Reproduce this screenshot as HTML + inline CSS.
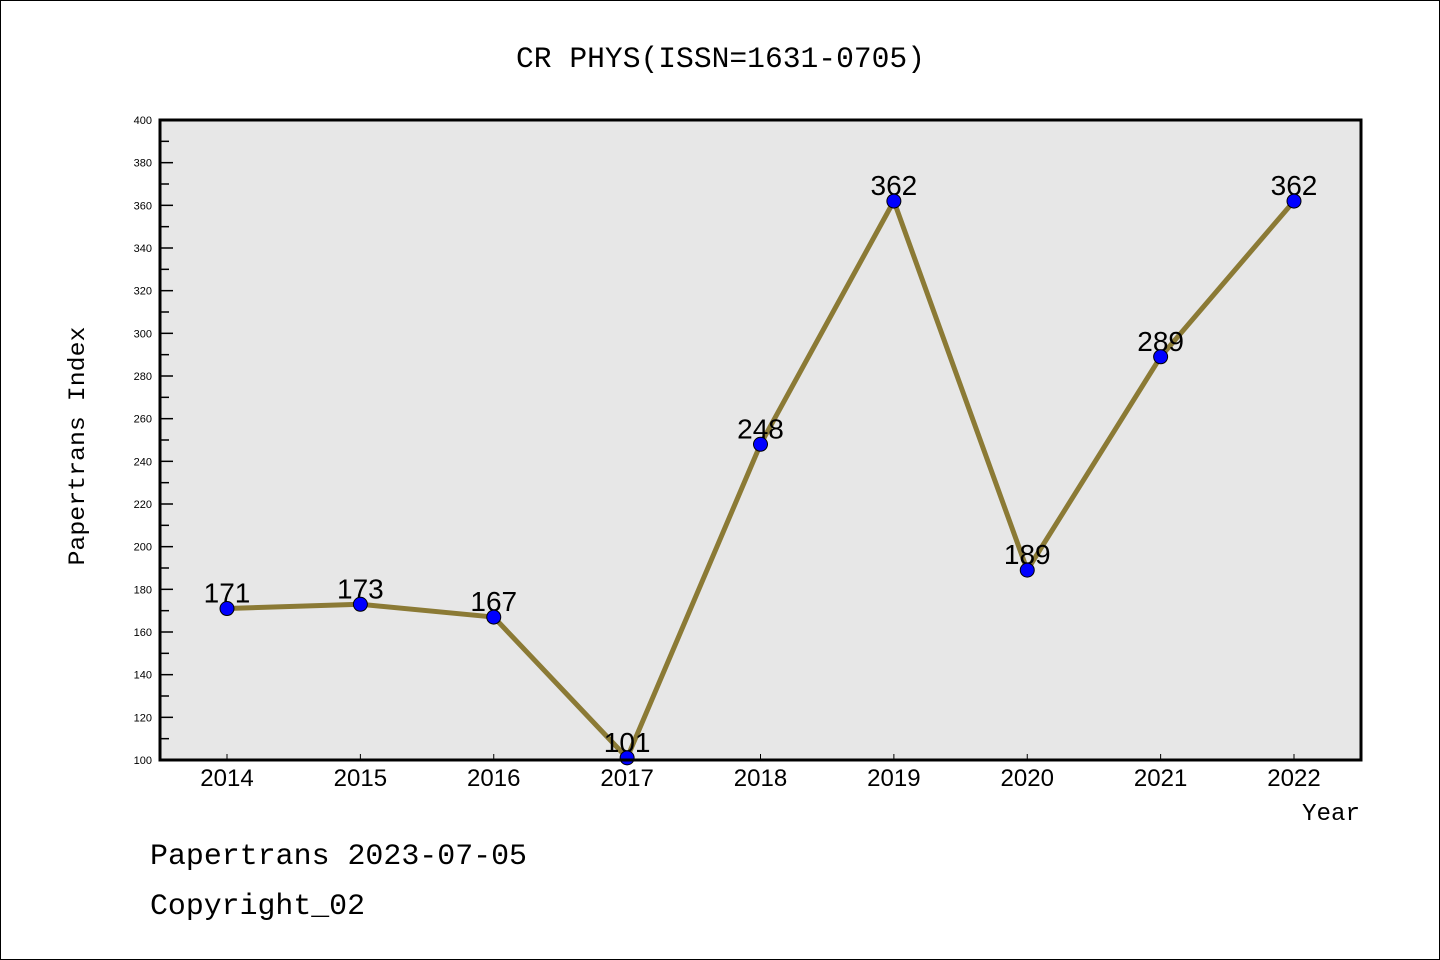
<!DOCTYPE html>
<html><head><meta charset="utf-8"><style>
html,body{margin:0;padding:0;background:#fff}
svg{display:block}
.m{font-family:"Liberation Mono","DejaVu Sans Mono",monospace}
.s{font-family:"Liberation Sans","DejaVu Sans",sans-serif}
</style></head><body>
<svg id="chart" width="1440" height="960" xmlns="http://www.w3.org/2000/svg">
<rect x="0.5" y="0.5" width="1439" height="959" fill="#fff" stroke="#000"/>
<text class="m" x="516" y="67" font-size="30" textLength="409" lengthAdjust="spacingAndGlyphs">CR PHYS(ISSN=1631-0705)</text>
<rect x="160" y="120" width="1201" height="640" fill="#e7e7e7"/>
<g id="ticks"></g>
<g id="series"></g>
<rect x="160" y="120" width="1201" height="640" fill="none" stroke="#000" stroke-width="3"/>
<text class="m" x="84" y="446" font-size="23" text-anchor="middle" textLength="239" lengthAdjust="spacingAndGlyphs" transform="rotate(-90 84 446)">Papertrans Index</text>
<text class="m" x="1302" y="820" font-size="24" textLength="58" lengthAdjust="spacingAndGlyphs">Year</text>
<text class="m" x="150" y="864" font-size="30" textLength="377" lengthAdjust="spacingAndGlyphs">Papertrans 2023-07-05</text>
<text class="m" x="150" y="914" font-size="30" textLength="215" lengthAdjust="spacingAndGlyphs">Copyright_02</text>
</svg>
<script>
const categories=["2014","2015","2016","2017","2018","2019","2020","2021","2022"];
const values=[171,173,167,101,248,362,189,289,362];
const yTicks=[100,120,140,160,180,200,220,240,260,280,300,320,340,360,380,400];
const NS="http://www.w3.org/2000/svg";
const X0=227,XSTEP=(1294-227)/8,Y0=760,Y1=120,YMIN=100,YMAX=400;
function xs(i){return X0+i*XSTEP;}
function ys(v){return Y0-(v-YMIN)/(YMAX-YMIN)*(Y0-Y1);}
function mk(tag,attrs,parent){const e=document.createElementNS(NS,tag);for(const k in attrs)e.setAttribute(k,attrs[k]);parent.appendChild(e);return e;}
const tg=document.getElementById('ticks'),sg=document.getElementById('series');
yTicks.forEach((v,i)=>{
  const y=ys(v);
  const t=mk('line',{x1:160,x2:173,y1:y,y2:y,stroke:'#000','stroke-width':1.5},tg);
  
  
  const l=mk('text',{class:'s',x:152,y:y+4,'font-size':11,'text-anchor':'end'},tg);
  l.textContent=v;
  
  
  if(i<yTicks.length-1){
    const ym=ys(v+(yTicks[1]-yTicks[0])/2);
    const m=mk('line',{x1:160,x2:169,y1:ym,y2:ym,stroke:'#000','stroke-width':1.5},tg);
    
    
  }
});
categories.forEach((c,i)=>{
  const x=xs(i);
  const t=mk('line',{x1:x,x2:x,y1:760,y2:754,stroke:'#000','stroke-width':1},tg);
  
  
  const l=mk('text',{class:'s',x:x,y:786,'font-size':24,'text-anchor':'middle'},tg);
  l.textContent=c;
  
  
});
const pts=values.map((v,i)=>xs(i)+','+ys(v)).join(' ');
const line=mk('polyline',{points:pts,fill:'none',stroke:'#8b7a35','stroke-width':5,'stroke-linejoin':'round'},sg);


values.forEach((v,i)=>{
  const l=mk('text',{class:'s',x:xs(i),y:ys(v)-6,'font-size':28,'text-anchor':'middle',fill:'#000'},sg);
  l.textContent=v;
  
  
});
values.forEach((v,i)=>{
  const c=mk('circle',{cx:xs(i),cy:ys(v),r:7,fill:'#0000ff',stroke:'#000','stroke-width':1},sg);
  
  
});
</script>
</body></html>
